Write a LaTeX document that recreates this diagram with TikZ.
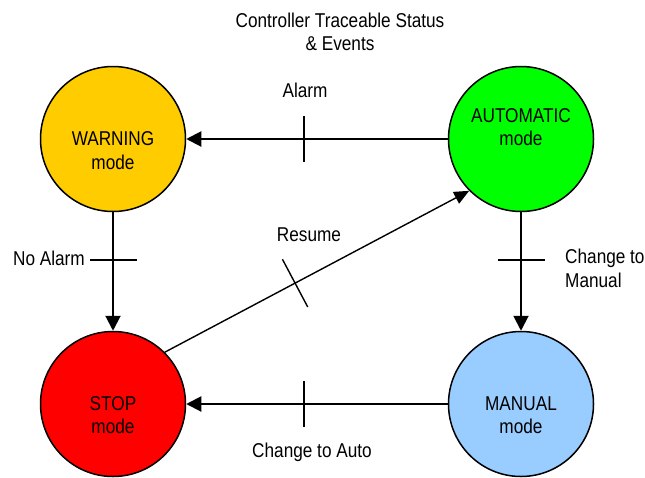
\documentclass[tikz,border=0pt]{standalone}
\usepackage{fontspec}
\setmainfont{Liberation Sans}[FakeStretch=0.86]
\usetikzlibrary{arrows.meta,calc}
\definecolor{warnc}{HTML}{FFCC00}
\definecolor{autoc}{HTML}{00FF00}
\definecolor{stopc}{HTML}{FF0000}
\definecolor{manc}{HTML}{99CCFF}
\begin{document}
\begin{tikzpicture}[x=1pt,y=-1pt,
  state/.style={circle,draw=black,line width=1.5pt,minimum size=145pt,inner sep=0pt},
  txt/.style={anchor=base,inner sep=0pt,font=\fontsize{20}{24}\selectfont},
  arrowline/.style={line width=2pt,-{Triangle[length=15pt,width=15pt]}},
  thinarrow/.style={line width=1.4pt,-{Triangle[length=15pt,width=13pt]}},
  tickline/.style={line width=2pt}]
\useasboundingbox (0,0) rectangle (645,477);
% states
\node[state,fill=warnc] (warn) at (113,139) {};
\node[state,fill=autoc] (auto) at (521,139) {};
\node[state,fill=stopc] (stop) at (113,404) {};
\node[state,fill=manc]  (man)  at (521,404) {};
% state texts
\node[txt] (warnA) at (113,145) {WARNING};
\node[txt] (warnB) at (113,169) {mode};
\node[txt] (autoA) at (521,122) {AUTOMATIC};
\node[txt] (autoB) at (521,145) {mode};
\node[txt] (stopA) at (113,410) {STOP};
\node[txt] (stopB) at (113,433) {mode};
\node[txt] (manA)  at (521,410) {MANUAL};
\node[txt] (manB)  at (521,433) {mode};
% title
\node[txt] (title1) at (340,27) {Controller Traceable Status};
\node[txt] (title2) at (340,50) {\& Events};
% connectors
\draw[arrowline] (auto.west) -- coordinate[pos=0.548] (tA) (warn.east);
\draw[arrowline] (man.west) -- coordinate[pos=0.548] (tB) (stop.east);
\draw[arrowline] (warn.south) -- coordinate[pos=0.40] (tC) (stop.north);
\draw[arrowline] (auto.south) -- coordinate[pos=0.40] (tD) (man.north);
\draw[thinarrow] (stop.north east) -- coordinate[pos=0.428] (tE) (auto.south west);
% ticks
\draw[tickline] ($(tA)+(0,-23)$) -- ($(tA)+(0,23)$);
\draw[tickline] ($(tB)+(0,-23)$) -- ($(tB)+(0,23)$);
\draw[tickline] ($(tC)+(-23,0)$) -- ($(tC)+(23.5,0)$);
\draw[tickline] ($(tD)+(-23.5,0)$) -- ($(tD)+(23.5,0)$);
\draw[line width=1.4pt] ($(tE)!27pt!90:(auto.south west)$) -- ($(tE)!27pt!-90:(auto.south west)$);
% labels
\node[txt] (lAlarm) at (305,97) {Alarm};
\node[txt] (lResume) at (309,241) {Resume};
\node[txt,anchor=base east] (lNoAlarm) at (85,265) {No Alarm};
\node[txt,anchor=base west] (lMan1) at (565,263) {Change to};
\node[txt,anchor=base west] (lMan2) at (565,287) {Manual};
\node[txt] (lAuto) at (312,457) {Change to Auto};
\end{tikzpicture}
\end{document}
